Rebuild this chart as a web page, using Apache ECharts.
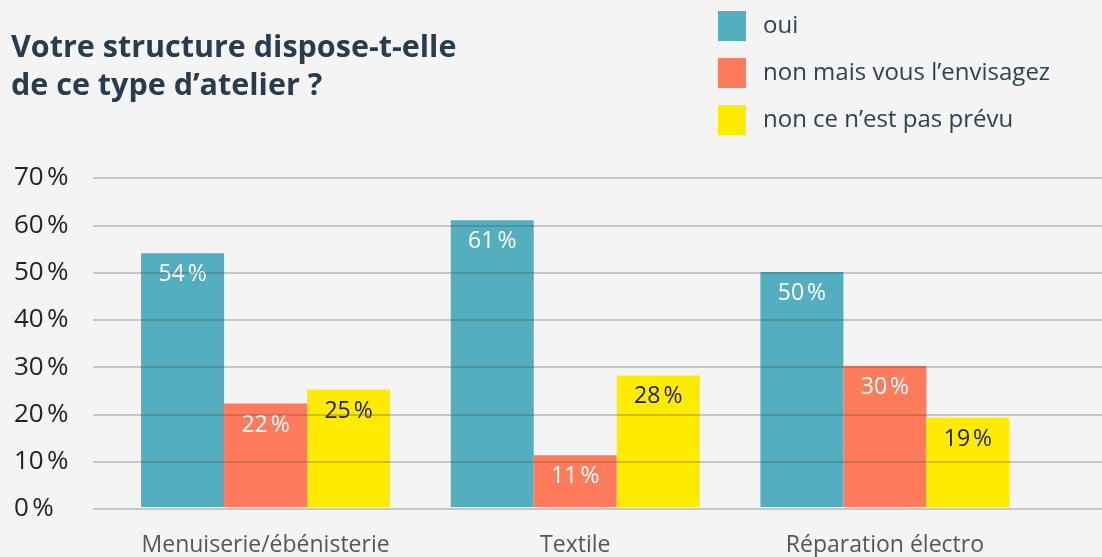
<!DOCTYPE html>
<html>
<head>
<meta charset="utf-8">
<script src="https://cdn.jsdelivr.net/npm/echarts@6/dist/echarts.min.js"></script>
<style>
  html, body { margin: 0; padding: 0; background: #f4f4f4; }
  #chart { width: 1102px; height: 557px; }
</style>
</head>
<body>
<div id="chart"></div>
<script>
const categories = ['Menuiserie/ébénisterie', 'Textile', 'Réparation électro'];
const seriesNames = ['oui', 'non mais vous l\u2019envisagez', 'non ce n\u2019est pas prévu'];
const oui = [54, 61, 50];
const envisagez = [22, 11, 30];
const pasPrevu = [25, 28, 19];
const yTicks = [0, 10, 20, 30, 40, 50, 60, 70];

const colors = ['#53afbf', '#ff7b5c', '#ffeb00'];
const FONT = '"Open Sans", sans-serif';
const pct = v => v + '\u202f%';

const chart = echarts.init(document.getElementById('chart'));

function barSeries(name, data, color, labelColor) {
  return {
    name, type: 'bar', data, xAxisIndex: 0, yAxisIndex: 0,
    barWidth: 83, barGap: '0%', z: 2,
    itemStyle: { color },
    label: {
      show: true, position: 'insideTop', distance: 10,
      color: labelColor, fontFamily: FONT, fontSize: 23, fontWeight: 500,
      formatter: p => pct(p.value)
    }
  };
}

chart.setOption({
  backgroundColor: '#f4f4f4',
  animation: false,
  title: {
    text: 'Votre structure dispose-t-elle\nde ce type d\u2019atelier ?',
    left: 11, top: 29, padding: 0,
    textStyle: { fontFamily: FONT, fontWeight: 'bold', fontSize: 30.5, lineHeight: 38, color: '#283c4d' }
  },
  legend: {
    orient: 'vertical', left: 718, top: 11, padding: 0,
    itemWidth: 28, itemHeight: 30, itemGap: 17,
    icon: 'rect',
    textStyle: { fontFamily: FONT, fontSize: 24, color: '#2f4252', padding: [0, 0, 0, 12] },
    data: seriesNames
  },
  grid: [
    { left: 110.75, right: 62.25, top: 178, bottom: 48 },
    { left: 93, right: 0, top: 178, bottom: 48 }
  ],
  xAxis: [
    {
      type: 'category', gridIndex: 0, data: categories,
      axisLine: { show: false }, axisTick: { show: false },
      axisLabel: { interval: 0, hideOverlap: false, fontFamily: FONT, fontSize: 23, color: '#5b5552', margin: 27 }
    },
    {
      type: 'value', gridIndex: 1, min: 0, max: 1, show: true,
      axisLine: { show: false }, axisTick: { show: false }, axisLabel: { show: false },
      splitLine: { show: false }
    }
  ],
  yAxis: [
    {
      type: 'value', gridIndex: 0, min: 0, max: 70, interval: 10,
      axisLine: { show: false }, axisTick: { show: false }, axisLabel: { show: false },
      splitLine: { show: false }
    },
    {
      type: 'value', gridIndex: 1, min: yTicks[0], max: yTicks[yTicks.length - 1], interval: 10,
      z: 5,
      axisLine: { show: false }, axisTick: { show: false },
      axisLabel: {
        align: 'left', margin: 79,
        fontFamily: FONT, fontSize: 26, color: '#262222',
        formatter: v => pct(v)
      },
      splitLine: { show: true, lineStyle: { color: 'rgba(70,60,60,0.34)', width: 1.5 } }
    }
  ],
  series: [
    barSeries(seriesNames[0], oui, colors[0], '#ffffff'),
    barSeries(seriesNames[1], envisagez, colors[1], '#ffffff'),
    barSeries(seriesNames[2], pasPrevu, colors[2], '#222222')
  ]
});
</script>
</body>
</html>
